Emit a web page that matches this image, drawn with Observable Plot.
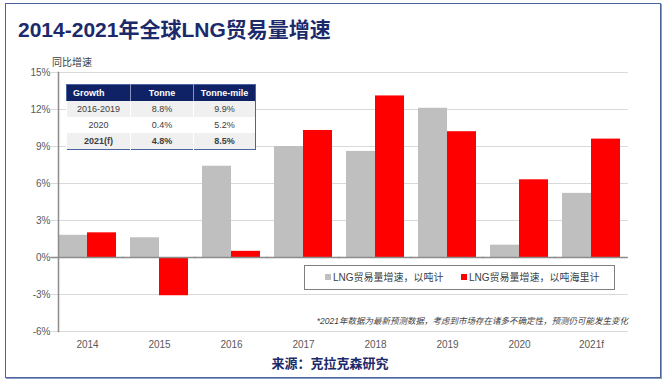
<!DOCTYPE html>
<html>
<head>
<meta charset="utf-8">
<script src="https://cdn.jsdelivr.net/npm/d3@7"></script>
<script src="https://cdn.jsdelivr.net/npm/@observablehq/plot@0.6"></script>
<style>
  html, body { margin: 0; padding: 0; background: #fff; }
  #wrap { position: relative; width: 670px; height: 380px; overflow: hidden;
    font-family: "Liberation Sans", "Noto Sans CJK SC", sans-serif; }
  #frame { position: absolute; left: 5px; top: 3px; width: 654px; height: 373px;
    border: 1px solid #4a64a0; box-shadow: 1px 1px 0 #8c9cc4; }
  #title { position: absolute; left: 18px; top: 19px; font-size: 21px; line-height: 21px;
    font-weight: bold; color: #1c2a6b; white-space: nowrap; }
  #chart { position: absolute; left: 0; top: 0; }
  #ylab { position: absolute; left: 52px; top: 57px; font-size: 10px; line-height: 12px; color: #404040; }
  #tbl { position: absolute; left: 66px; top: 84px; border-collapse: collapse;
    border: 1px solid #4a64a0; font-size: 9px; color: #404040; background: #fff; }
  #tbl td, #tbl th { height: 16px; padding: 0; text-align: center; line-height: 16px; }
  #tbl th { background: #0f2266; color: #fff; font-weight: bold; border-left: 1px solid #8a94bc; }
  #tbl th:first-child { text-align: left; padding-left: 6px; border-left: none; }
  #tbl td { border-left: 1px solid #fff; }
  #tbl tr.shade td { background: #f0f0f0; }
  #tbl tr.bold td { font-weight: bold; }
  #legend { position: absolute; left: 304px; top: 265px; width: 309px; height: 23px;
    border: 1px solid #7f7f7f; background: #fff; font-size: 10px; color: #404040; }
  .item { position: absolute; top: 5px; line-height: 13px; white-space: nowrap; }
  .sw { display: inline-block; width: 6px; height: 6px; margin-right: 2px; vertical-align: 1px; }
  #note { position: absolute; right: 42px; top: 316px; font-size: 8.5px; line-height: 11px;
    font-style: italic; color: #404040; white-space: nowrap; }
  #source { position: absolute; left: 0; width: 660px; text-align: center; top: 356px;
    font-size: 13px; line-height: 15px; font-weight: bold; color: #1c2a6b; }
</style>
</head>
<body>
<div id="wrap">
  <div id="frame"></div>
  <div id="chart"></div>
  <div id="title"></div>
  <div id="ylab"></div>
  <table id="tbl"></table>
  <div id="legend"></div>
  <div id="note"></div>
  <div id="source"></div>
</div>
<script>
// ---- data ----
const titleText = "2014-2021年全球LNG贸易量增速";
const yAxisLabel = "同比增速";
const years = ["2014", "2015", "2016", "2017", "2018", "2019", "2020", "2021f"];
const seriesNames = ["LNG贸易量增速，以吨计", "LNG贸易量增速，以吨海里计"];
const tonneGrowth = [1.8, 1.6, 7.4, 9.0, 8.6, 12.1, 1.0, 5.2];
const tonneMileGrowth = [2.0, -3.1, 0.5, 10.3, 13.1, 10.2, 6.3, 9.6];
const seriesColors = ["#bfbfbf", "#ff0000"];
const yTicks = [-6, -3, 0, 3, 6, 9, 12, 15];
const tableHeader = ["Growth", "Tonne", "Tonne-mile"];
const tableRows = [
  ["2016-2019", "8.8%", "9.9%"],
  ["2020", "0.4%", "5.2%"],
  ["2021(f)", "4.8%", "8.5%"]
];
const noteText = "*2021年数据为最新预测数据，考虑到市场存在诸多不确定性，预测仍可能发生变化";
const sourceText = "来源：克拉克森研究";

// ---- build ----
const rows = [];
years.forEach((yr, i) => {
  rows.push({year: yr, series: seriesNames[0], value: tonneGrowth[i]});
  rows.push({year: yr, series: seriesNames[1], value: tonneMileGrowth[i]});
});

const W = 670, H = 380, mL = 50, mR = 42, mT = 72, mB = 49;
const padIn = 0.2, padOut = 0.1;
const step = (W - mL - mR) / (years.length - padIn + 2 * padOut);
const halfGap = step * padIn / 2; // extends rules across the gaps between facets

const chart = Plot.plot({
  width: W,
  height: H,
  marginLeft: mL,
  marginRight: mR,
  marginTop: mT,
  marginBottom: mB,
  style: {background: "transparent", color: "#595959", fontSize: "10px",
    fontFamily: "'Liberation Sans', 'Noto Sans CJK SC', sans-serif"},
  fx: {domain: years, paddingInner: padIn, paddingOuter: padOut, axis: "bottom",
    tickSize: 0, tickPadding: 9, label: null},
  x: {domain: seriesNames, padding: 0, axis: null},
  y: {domain: [-6, 15], ticks: yTicks, tickFormat: d => d + "%", tickSize: 0,
    tickPadding: 8, label: null},
  color: {domain: seriesNames, range: seriesColors},
  marks: [
    Plot.ruleY(yTicks, {stroke: "#d9d9d9", strokeWidth: 1, insetLeft: -halfGap - 0.5, insetRight: -halfGap - 0.5}),
    Plot.barY(rows, {fx: "year", x: "series", y: "value", fill: "series"}),
    Plot.ruleY([0], {stroke: "#8c8c8c", strokeWidth: 1.5, insetLeft: -halfGap - 0.5, insetRight: -halfGap - 0.5}),
    Plot.frame({anchor: "left", stroke: "#8c8c8c", strokeWidth: 1.5, facet: "super"})
  ]
});
document.getElementById("chart").appendChild(chart);

document.getElementById("title").textContent = titleText;
document.getElementById("ylab").textContent = yAxisLabel;
document.getElementById("note").textContent = noteText;
document.getElementById("source").textContent = sourceText;

const colW = [63, 62, 61];
const tbl = document.getElementById("tbl");
const hr = document.createElement("tr");
tableHeader.forEach((h, i) => {
  const th = document.createElement("th");
  th.textContent = h;
  th.style.width = (i === 0 ? colW[i] - 6 : colW[i]) + "px";
  hr.appendChild(th);
});
tbl.appendChild(hr);
tableRows.forEach((r, ri) => {
  const tr = document.createElement("tr");
  if (ri !== 1) tr.className = "shade";
  if (ri === tableRows.length - 1) tr.className += " bold";
  r.forEach(c => {
    const td = document.createElement("td");
    td.textContent = c;
    tr.appendChild(td);
  });
  tbl.appendChild(tr);
});

const color = chart.scale("color");
const legend = document.getElementById("legend");
const legendLeft = [20, 156];
seriesNames.forEach((s, i) => {
  const it = document.createElement("div");
  it.className = "item";
  it.style.left = legendLeft[i] + "px";
  const sw = document.createElement("span");
  sw.className = "sw";
  sw.style.background = color.apply(s);
  it.appendChild(sw);
  it.appendChild(document.createTextNode(s));
  legend.appendChild(it);
});
</script>
</body>
</html>
